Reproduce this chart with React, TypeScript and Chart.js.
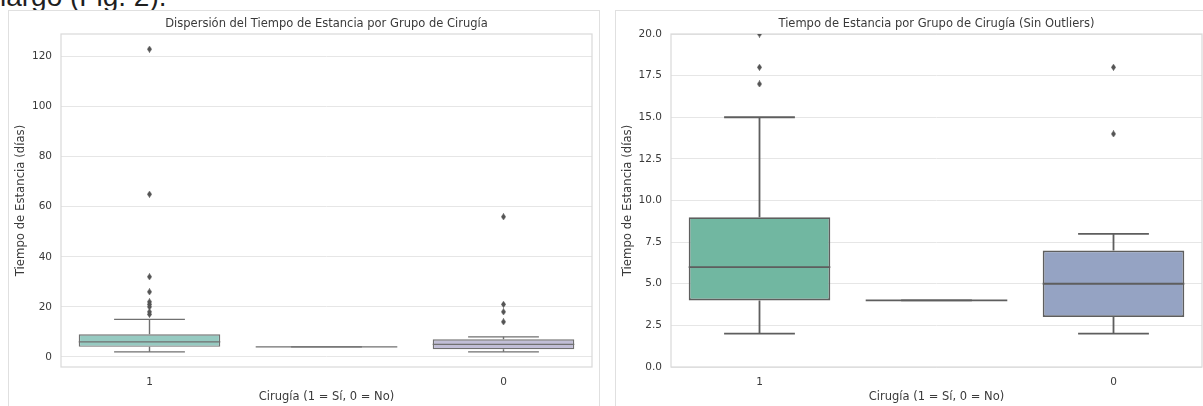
import React, { useEffect, useRef } from "react";
import { Chart, registerables } from "chart.js";

Chart.register(...registerables);

// ---------- data ----------
const categories = ["1", "", "0"];
const q1 = [4, 4, 3];
const medians = [6, 4, 5];
const q3 = [9, 4, 7];
const whiskerLow = [2, 4, 2];
const whiskerHigh = [15, 4, 8];
const outliersSi = [123, 65, 32, 26, 22, 21, 20, 18, 17];
const outliersNo = [56, 21, 18, 14];
const leftYTicks = [0, 20, 40, 60, 80, 100, 120];
const rightYTicks = [0, 2.5, 5, 7.5, 10, 12.5, 15, 17.5, 20];
const leftYRange = [-4.05, 129.05];
const rightYRange = [0, 20];
const leftTitle = "Dispersión del Tiempo de Estancia por Grupo de Cirugía";
const rightTitle = "Tiempo de Estancia por Grupo de Cirugía (Sin Outliers)";
const xTitle = "Cirugía (1 = Sí, 0 = No)";
const yTitle = "Tiempo de Estancia (días)";

// ---------- styles ----------
const leftColors = ["#96cac1", "#e6e6bd", "#c1bed6"];
const rightColors = ["#71b7a1", "#e99575", "#95a3c3"];
const FONT = "'DejaVu Sans', sans-serif";
const TEXT = "#3a3a3a";
const GRID = "#e6e6e6";
const SPINE = "#d9d9d9";
const FRAME = "#e0e0e0";
const BOX_HALF = 0.4;
const CAP_HALF = 0.2;

function makeDiamond(color: string, w: number, h: number) {
  const c = document.createElement("canvas");
  c.width = w;
  c.height = h;
  const ctx = c.getContext("2d")!;
  ctx.fillStyle = color;
  ctx.beginPath();
  ctx.moveTo(w / 2, 0);
  ctx.lineTo(w, h / 2);
  ctx.lineTo(w / 2, h);
  ctx.lineTo(0, h / 2);
  ctx.closePath();
  ctx.fill();
  return c;
}

const spinePlugin = {
  id: "spines",
  beforeDatasetsDraw(chart: any) {
    const { ctx, chartArea: a } = chart;
    ctx.save();
    ctx.strokeStyle = SPINE;
    ctx.lineWidth = 1.2;
    ctx.strokeRect(a.left, a.top, a.right - a.left, a.bottom - a.top);
    ctx.restore();
  },
};

type PanelProps = {
  left: number;
  top: number;
  width: number;
  height: number;
  title: string;
  yTicks: number[];
  yRange: number[];
  colors: string[];
  lineColor: string;
  lineWidth: number;
  decimals: number;
  yAxisWidth: number;
  rightPad: number;
};

function BoxPanel(p: PanelProps) {
  const ref = useRef<HTMLCanvasElement>(null);
  useEffect(() => {
    const canvas = ref.current!;
    const gSi = categories.indexOf("1");
    const gNo = categories.indexOf("0");
    const whiskers: any[] = [];
    const caps: any[] = [];
    const meds: any[] = [];
    categories.forEach((_, i) => {
      whiskers.push(
        { x: i, y: q1[i] },
        { x: i, y: whiskerLow[i] },
        { x: i, y: null },
        { x: i, y: q3[i] },
        { x: i, y: whiskerHigh[i] },
        { x: i, y: null }
      );
      caps.push(
        { x: i - CAP_HALF, y: whiskerLow[i] },
        { x: i + CAP_HALF, y: whiskerLow[i] },
        { x: i, y: null },
        { x: i - CAP_HALF, y: whiskerHigh[i] },
        { x: i + CAP_HALF, y: whiskerHigh[i] },
        { x: i, y: null }
      );
      meds.push(
        { x: i - BOX_HALF, y: medians[i] },
        { x: i + BOX_HALF, y: medians[i] },
        { x: i, y: null }
      );
    });
    const fliers = [
      ...outliersSi.map((v) => ({ x: gSi, y: v })),
      ...outliersNo.map((v) => ({ x: gNo, y: v })),
    ];
    const lineDs = (data: any[]) => ({
      type: "line" as const,
      data,
      xAxisID: "xl",
      yAxisID: "y",
      borderColor: p.lineColor,
      borderWidth: p.lineWidth,
      pointRadius: 0,
      pointHoverRadius: 0,
      fill: false,
      tension: 0,
      spanGaps: false,
      borderCapStyle: "butt" as const,
      order: 1,
    });
    const diamond = makeDiamond("#555555", 5, 7);

    const chart = new Chart(canvas, {
      type: "bar",
      data: {
        labels: categories,
        datasets: [
          {
            type: "bar",
            data: q1.map((v, i) => [v, q3[i]]) as any,
            xAxisID: "x",
            yAxisID: "y",
            backgroundColor: p.colors,
            borderColor: p.lineColor,
            borderWidth: p.lineWidth,
            borderSkipped: false,
            grouped: false,
            categoryPercentage: 1,
            barPercentage: 2 * BOX_HALF,
            order: 2,
          } as any,
          lineDs(whiskers),
          lineDs(caps),
          lineDs(meds),
          {
            type: "scatter",
            data: fliers,
            xAxisID: "xl",
            yAxisID: "y",
            pointStyle: diamond,
            pointRadius: 4,
            pointHoverRadius: 4,
            clip: 0,
            order: 0,
          } as any,
        ],
      },
      options: {
        animation: false,
        responsive: false,
        events: [],
        layout: { padding: { left: 0, right: p.rightPad, top: 0, bottom: 0 } },
        plugins: {
          legend: { display: false },
          tooltip: { enabled: false },
          title: {
            display: true,
            text: p.title,
            fullSize: false,
            color: TEXT,
            font: { family: FONT, size: 11.5, weight: "normal" },
            padding: { top: 6.1, bottom: 3.1 },
          },
        },
        scales: {
          x: {
            type: "category",
            position: "bottom",
            offset: true,
            grid: { display: false, drawTicks: false },
            border: { display: false },
            ticks: {
              color: TEXT,
              font: { family: FONT, size: 10.5 },
              padding: 8.7,
              maxRotation: 0,
              autoSkip: false,
            },
            title: {
              display: true,
              text: xTitle,
              color: TEXT,
              font: { family: FONT, size: 11.5 },
              padding: { top: 2, bottom: 2.1 },
            },
            afterFit: (s: any) => {
              s.height = 39;
            },
          },
          xl: {
            type: "linear",
            axis: "x",
            position: "bottom",
            display: false,
            offset: false,
            grid: { offset: false },
            min: -0.5,
            max: categories.length - 0.5,
          } as any,
          y: {
            type: "linear",
            min: p.yRange[0],
            max: p.yRange[1],
            grid: { color: GRID, lineWidth: 1, drawTicks: false },
            border: { display: false },
            ticks: {
              color: TEXT,
              font: { family: FONT, size: 10.5 },
              padding: 9,
              callback: (v: any) => Number(v).toFixed(p.decimals),
            },
            afterBuildTicks: (s: any) => {
              s.ticks = p.yTicks.map((v) => ({ value: v }));
            },
            title: {
              display: true,
              text: yTitle,
              color: TEXT,
              font: { family: FONT, size: 11.7 },
              padding: { top: 5, bottom: 0 },
            },
            afterFit: (s: any) => {
              s.width = p.yAxisWidth;
            },
          },
        },
      },
      plugins: [spinePlugin],
    });
    return () => chart.destroy();
  }, []);

  return (
    <div
      style={{
        position: "absolute",
        left: p.left,
        top: p.top,
        width: p.width + 2,
        height: p.height + 1,
        boxSizing: "border-box",
        borderTop: `1px solid ${FRAME}`,
        borderLeft: `1px solid ${FRAME}`,
        borderRight: `1px solid ${FRAME}`,
        background: "#ffffff",
      }}
    >
      <canvas
        ref={ref}
        width={p.width}
        height={p.height}
        style={{ display: "block", width: p.width, height: p.height }}
      />
    </div>
  );
}

export default function App() {
  return (
    <div
      style={{
        position: "absolute",
        left: 0,
        top: 0,
        width: 1203,
        height: 406,
        overflow: "hidden",
        background: "#ffffff",
      }}
    >
      <div
        style={{
          position: "absolute",
          left: 0,
          top: -17.5,
          fontFamily: "'Liberation Sans', Arial, sans-serif",
          fontSize: 28,
          lineHeight: "28px",
          color: "#1f1f1f",
          whiteSpace: "nowrap",
        }}
      >
        largo (Fig. 2).
      </div>
      <BoxPanel
        left={8}
        top={10}
        width={590}
        height={395}
        title={leftTitle}
        yTicks={leftYTicks}
        yRange={leftYRange}
        colors={leftColors}
        lineColor="#707070"
        lineWidth={1.4}
        decimals={0}
        yAxisWidth={52}
        rightPad={7}
      />
      <BoxPanel
        left={615}
        top={10}
        width={600}
        height={395}
        title={rightTitle}
        yTicks={rightYTicks}
        yRange={rightYRange}
        colors={rightColors}
        lineColor="#5e5e5e"
        lineWidth={1.8}
        decimals={1}
        yAxisWidth={55}
        rightPad={14}
      />
    </div>
  );
}
